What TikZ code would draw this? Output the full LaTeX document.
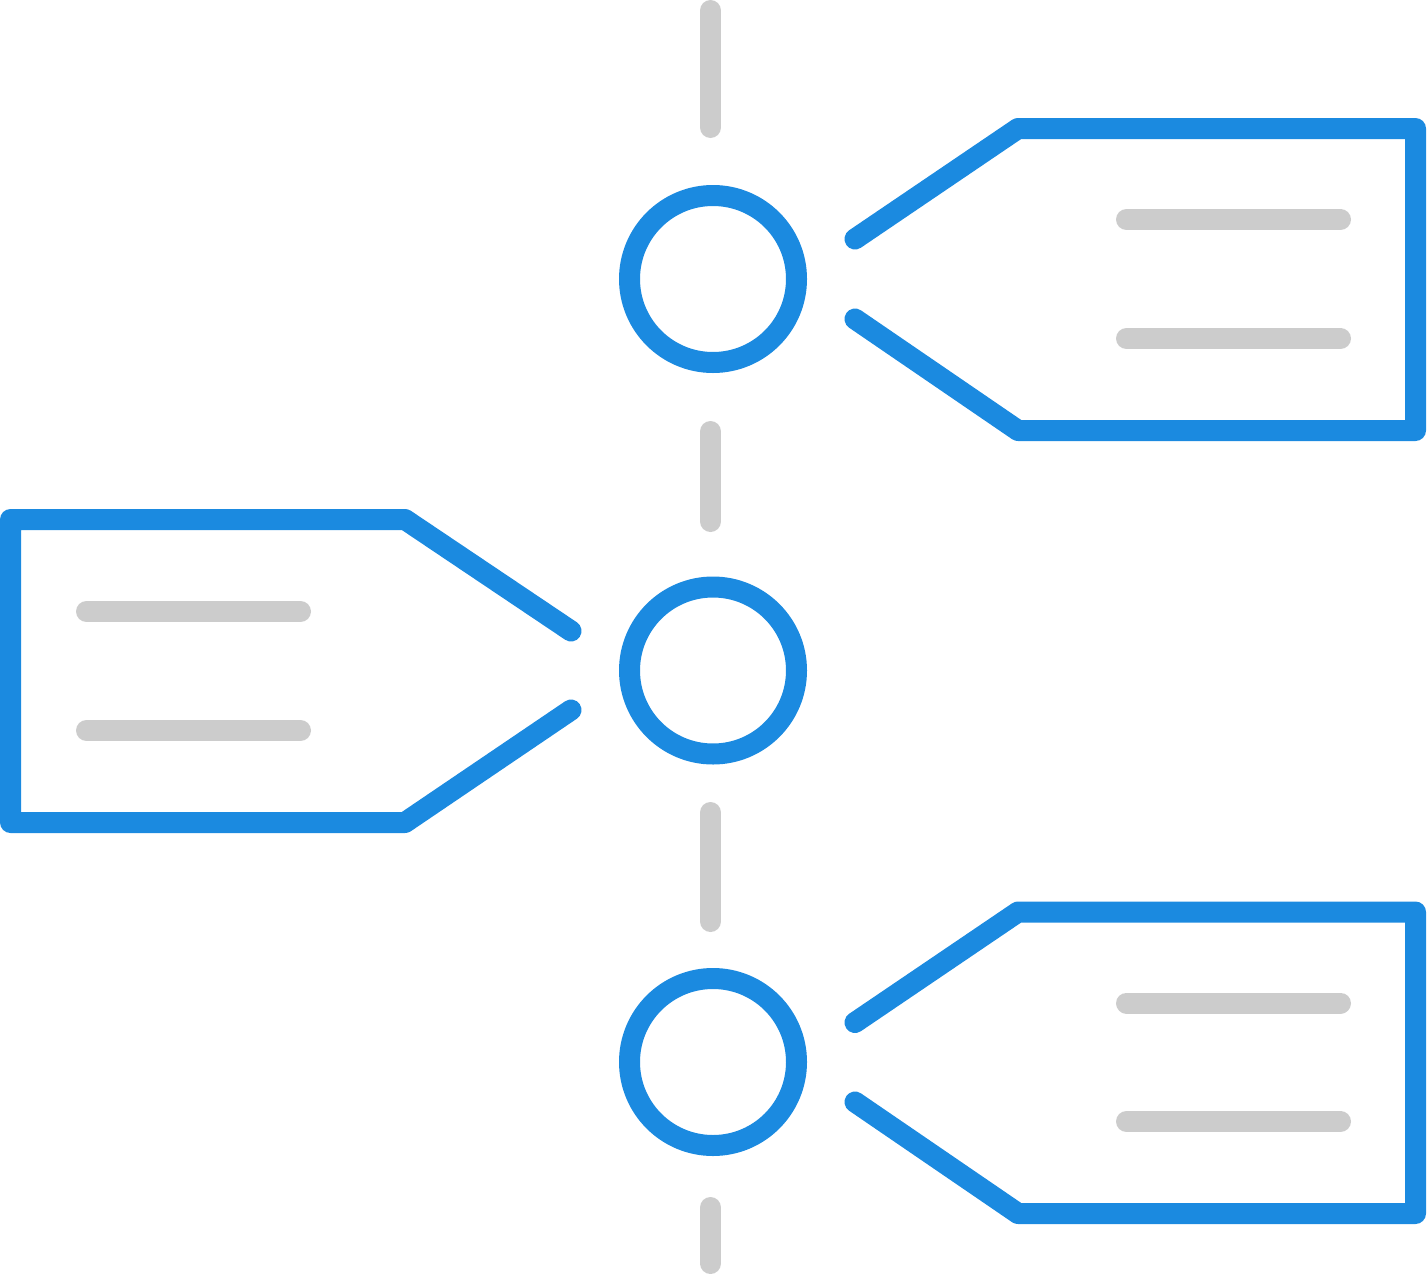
\documentclass[tikz,border=0pt]{standalone}
\definecolor{iconblue}{HTML}{1B8AE0}
\definecolor{icongray}{HTML}{CCCCCC}
\begin{document}
\begin{tikzpicture}[x=1pt,y=-1pt,
  blueline/.style={draw=iconblue,line width=21pt,line cap=round,line join=round},
  grayline/.style={draw=icongray,line width=21pt,line cap=round}]
\useasboundingbox (0,0) rectangle (1427,1274);
% timeline dashes
\draw[grayline] (710.5,10.5) -- (710.5,127.5);
\draw[grayline] (710.5,431.5) -- (710.5,521.5);
\draw[grayline] (710.5,812.5) -- (710.5,921.5);
\draw[grayline] (710.5,1207.5) -- (710.5,1263.5);
% circles
\draw[blueline] (713,279) circle[radius=83.5];
\draw[blueline] (713,670.5) circle[radius=83.5];
\draw[blueline] (713,1062) circle[radius=83.5];
% tag 1 (right)
\draw[blueline] (855,239) -- (1018,128.5) -- (1415.5,128.5) -- (1415.5,430.5) -- (1018,430.5) -- (855,319);
\draw[grayline] (1126.5,219.5) -- (1340.5,219.5);
\draw[grayline] (1126.5,338.5) -- (1340.5,338.5);
% tag 2 (left)
\draw[blueline] (571,631) -- (405,519.5) -- (10.5,519.5) -- (10.5,822.5) -- (405,822.5) -- (571,710);
\draw[grayline] (86.5,611.5) -- (300.5,611.5);
\draw[grayline] (86.5,730.5) -- (300.5,730.5);
% tag 3 (right)
\draw[blueline] (855,1022.5) -- (1018,912) -- (1415.5,912) -- (1415.5,1213.5) -- (1018,1213.5) -- (855,1102);
\draw[grayline] (1126.5,1003) -- (1340.5,1003);
\draw[grayline] (1126.5,1121.5) -- (1340.5,1121.5);
\end{tikzpicture}
\end{document}
